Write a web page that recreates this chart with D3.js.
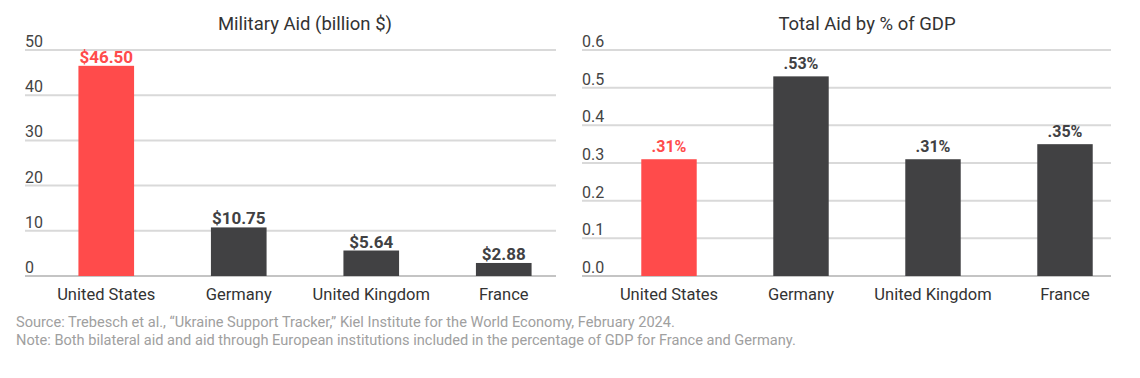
<!DOCTYPE html>
<html lang="en">
<head>
    <meta charset="UTF-8">
    <title>Military Aid and Total Aid by % of GDP</title>
    <script src="https://d3js.org/d3.v7.min.js"></script>
    <style>
        body {
            margin: 0;
            background: #fff;
            font-family: Roboto, "Noto Sans", Arial, sans-serif;
        }
        .tick-label { fill: #444; font-size: 16px; }
        .cat-label { fill: #333; font-size: 16.5px; }
        .title { fill: #333; font-size: 18.5px; }
        .note { fill: #a0a0a0; font-size: 14.6px; }
    </style>
</head>
<body>
<div id="chart"></div>
<script>
    // Data
    var countries = ["United States", "Germany", "United Kingdom", "France"];
    var militaryAid = [46.50, 10.75, 5.64, 2.88];      // billion $
    var gdpShare = [0.31, 0.53, 0.31, 0.35];           // % of GDP
    var militaryTicks = [0, 10, 20, 30, 40, 50];
    var gdpTicks = [0, 0.1, 0.2, 0.3, 0.4, 0.5, 0.6];
    var notes = [
        "Source: Trebesch et al., \u201cUkraine Support Tracker,\u201d Kiel Institute for the World Economy, February 2024.",
        "Note: Both bilateral aid and aid through European institutions included in the percentage of GDP for France and Germany."
    ];

    var W = 1140, H = 378;
    var red = "#ff4b4b", dark = "#414143";

    var svg = d3.select("#chart").append("svg")
        .attr("width", W)
        .attr("height", H);

    function drawPanel(opt) {
        var g = svg.append("g");

        var x = d3.scaleBand()
            .domain(countries)
            .range(opt.band)
            .paddingInner(0.58)
            .paddingOuter(0.29);

        var y = d3.scaleLinear()
            .domain(opt.domain)
            .range([276, 50]);

        // grid lines
        g.selectAll(".grid")
            .data(opt.ticks)
            .enter().append("line")
            .attr("x1", opt.grid[0])
            .attr("x2", opt.grid[1])
            .attr("y1", function (d) { return y(d); })
            .attr("y2", function (d) { return y(d); })
            .attr("stroke", function (d) { return d === 0 ? "#c4c4c4" : "#d9d9d9"; })
            .attr("stroke-width", 2);

        // y tick labels sit above their grid lines
        g.selectAll(".tick-label")
            .data(opt.ticks)
            .enter().append("text")
            .attr("class", "tick-label")
            .attr("x", opt.grid[0])
            .attr("y", function (d) { return y(d) - 3; })
            .text(opt.tickFormat);

        // bars
        g.selectAll(".bar")
            .data(opt.values)
            .enter().append("rect")
            .attr("x", function (d, i) { return x(countries[i]); })
            .attr("width", x.bandwidth())
            .attr("y", function (d) { return y(d); })
            .attr("height", function (d) { return y(0) - y(d); })
            .attr("fill", function (d, i) { return i === 0 ? red : dark; });

        // value labels
        g.selectAll(".val")
            .data(opt.values)
            .enter().append("text")
            .attr("x", function (d, i) { return x(countries[i]) + x.bandwidth() / 2; })
            .attr("y", function (d) { return y(d) - opt.labelGap; })
            .attr("text-anchor", "middle")
            .attr("font-weight", "bold")
            .attr("font-size", opt.labelSize + "px")
            .attr("fill", function (d, i) { return i === 0 ? red : "#414143"; })
            .text(opt.valueFormat);

        // category axis
        var xAxis = g.append("g")
            .attr("transform", "translate(0,284)")
            .call(d3.axisBottom(x).tickSize(0).tickPadding(0));
        xAxis.select(".domain").remove();
        xAxis.selectAll("text")
            .attr("class", "cat-label")
            .attr("dy", null)
            .attr("y", 16)
            .attr("fill", null)
            .style("font-family", "Roboto, sans-serif");

        // title
        g.append("text")
            .attr("class", "title")
            .attr("x", (opt.band[0] + opt.band[1]) / 2)
            .attr("y", 30)
            .attr("text-anchor", "middle")
            .text(opt.title);
    }

    drawPanel({
        title: "Military Aid (billion $)",
        values: militaryAid,
        domain: [0, 50],
        ticks: militaryTicks,
        grid: [25, 556],
        band: [40, 570],
        labelGap: 3,
        labelSize: 17,
        tickFormat: d3.format("d"),
        valueFormat: function (d) { return "$" + d3.format(".2f")(d); }
    });

    drawPanel({
        title: "Total Aid by % of GDP",
        values: gdpShare,
        domain: [0, 0.6],
        ticks: gdpTicks,
        grid: [582, 1111],
        band: [603, 1131],
        labelGap: 7,
        labelSize: 16,
        tickFormat: d3.format(".1f"),
        valueFormat: function (d) { return d3.format(".2f")(d).replace(/^0/, "") + "%"; }
    });

    // footnotes
    svg.selectAll(".note")
        .data(notes)
        .enter().append("text")
        .attr("class", "note")
        .attr("x", 16)
        .attr("y", function (d, i) { return 327 + i * 18; })
        .text(function (d) { return d; });
</script>
</body>
</html>
